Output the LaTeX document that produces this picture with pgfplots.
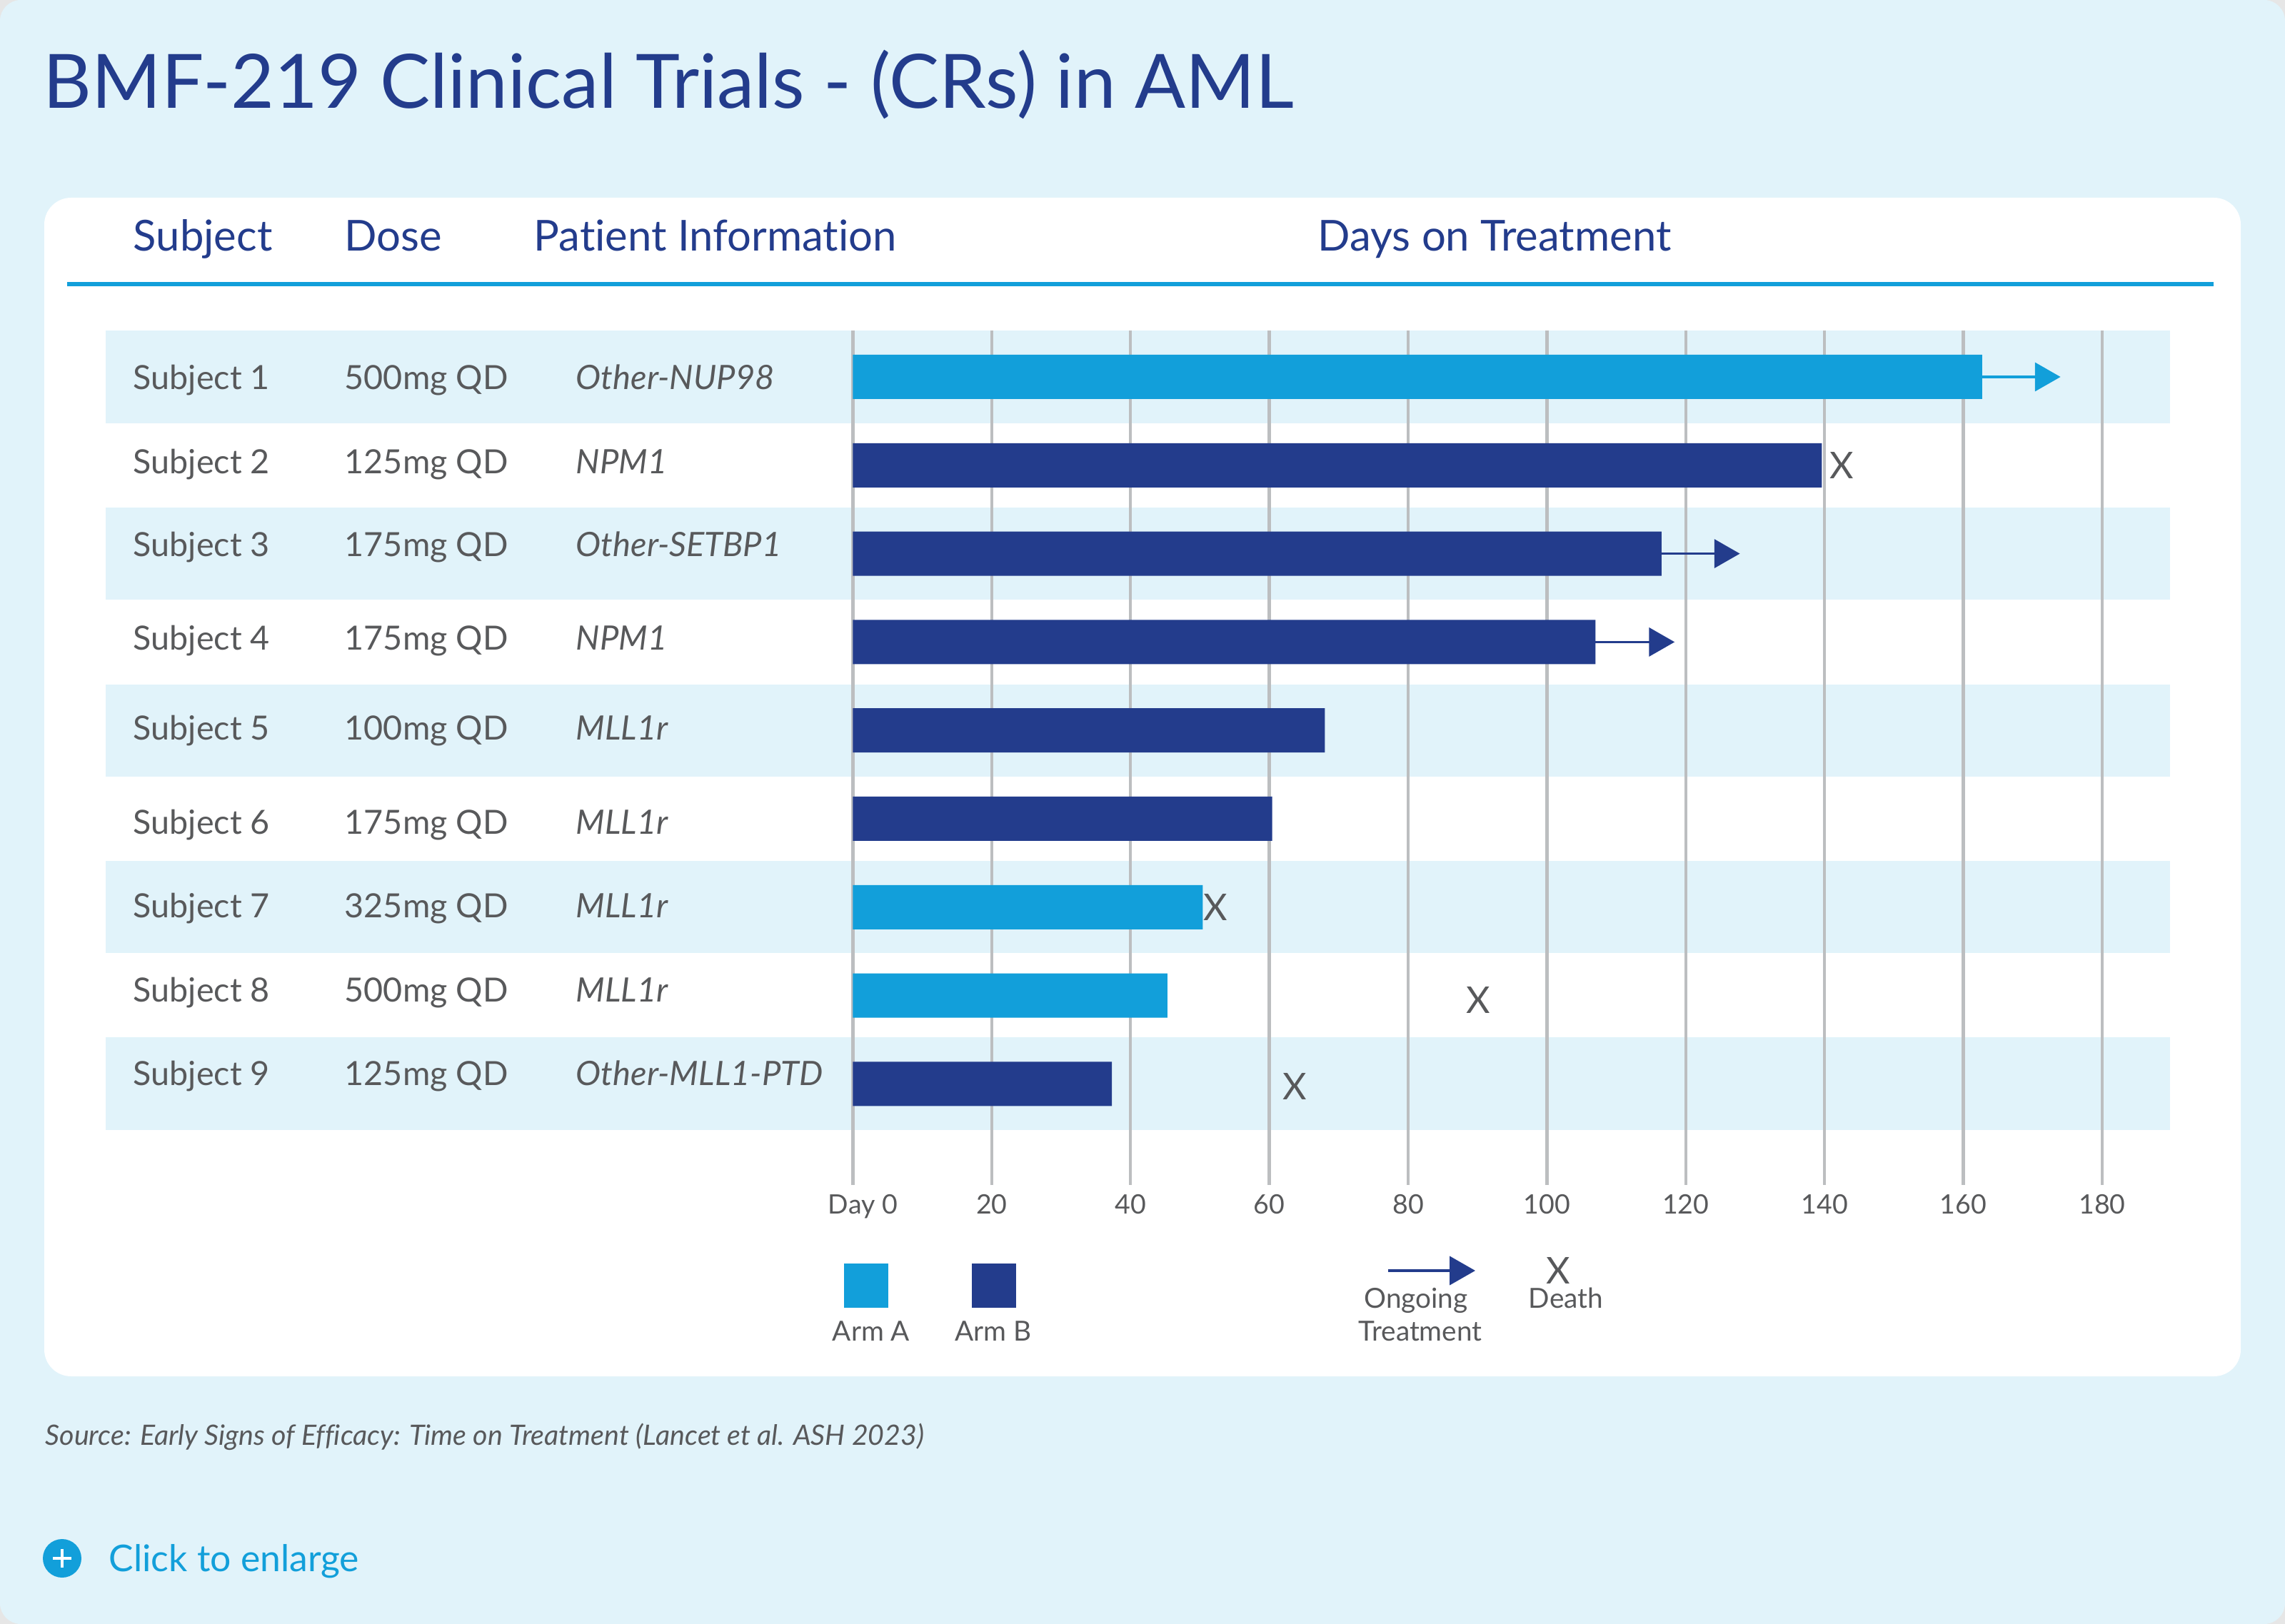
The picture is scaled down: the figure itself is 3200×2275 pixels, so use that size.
\documentclass[border=0pt]{standalone}
\usepackage{fontspec}
\setmainfont[Ligatures=NoCommon]{Lato}
\usepackage{pgfplots}
\pgfplotsset{compat=1.18}
\usetikzlibrary{arrows.meta}
\usetikzlibrary{plotmarks}
\definecolor{pagebg}{HTML}{E1F3FA}
\definecolor{armA}{HTML}{129FDA}
\definecolor{armB}{HTML}{233C8C}
\definecolor{txt}{HTML}{58595B}
\definecolor{gridc}{HTML}{BCBEC0}
\definecolor{outer}{HTML}{E6E6E6}
% 1 reference pixel = 0.24pt
\newcommand{\fs}[1]{\fontsize{#1}{#1}\selectfont}

\begin{document}
\begin{tikzpicture}[x=0.24pt,y=-0.24pt]
\path[use as bounding box] (0,0) rectangle (3200,2275);
\fill[outer] (0,0) rectangle (3200,2275);
\fill[pagebg,rounded corners=7pt] (0,0) rectangle (3200,2275);
\fill[white,rounded corners=9pt] (62,277) rectangle (3138,1928);
\fill[armA] (94,395) rectangle (3100,401);

% title and headers
\node[anchor=base west,inner sep=0,text=armB] at (60,152) {\fs{25.2}BMF-219 Clinical Trials - (CRs) in AML};
\foreach \x/\t in {186/Subject,482/Dose,747/Patient Information,1845/Days on Treatment}
  \node[anchor=base west,inner sep=0,text=armB] at (\x,352) {\fs{14.35}\t};

% row bands
\foreach \a/\b in {463/593,711/840,959/1088,1206/1335,1453/1583}
  \fill[pagebg] (148,\a) rectangle (3039,\b);

% row labels
\foreach \y/\s/\d/\p in {
  546/Subject 1/500mg QD/Other-NUP98,
  664/Subject 2/125mg QD/NPM1,
  780/Subject 3/175mg QD/Other-SETBP1,
  911/Subject 4/175mg QD/NPM1,
  1037/Subject 5/100mg QD/MLL1r,
  1168/Subject 6/175mg QD/MLL1r,
  1285/Subject 7/325mg QD/MLL1r,
  1403/Subject 8/500mg QD/MLL1r,
  1520/Subject 9/125mg QD/Other-MLL1-PTD}{
  \node[anchor=base west,inner sep=0,text=txt] at (186,\y) {\fs{11.2}\s};
  \node[anchor=base west,inner sep=0,text=txt] at (482,\y) {\fs{11.2}\d};
  \node[anchor=base west,inner sep=0,text=txt] at (806,\y) {\fs{11.3}\itshape\p};
}

\begin{axis}[
  at={(286.68pt,-111.12pt)}, anchor=north west,
  scale only axis, width=419.88pt, height=287.28pt,
  xmin=0, xmax=180, ymin=0.475, ymax=10.144, y dir=reverse,
  axis line style={draw=none},
  clip=false,
  xtick={0,20,...,180},
  xticklabels={\hspace*{6.7pt}Day 0,20,40,60,80,100,120,140,160,180},
  xtick style={draw=none},
  ytick=\empty,
  xmajorgrids,
  major grid style={gridc,line width=1.05pt},
  tick label style={font=\fs{9},text=txt},
  xticklabel style={yshift=0.4pt},
  /pgf/number format/assume math mode=true,
]
% Arm A
\addplot[xbar,bar width=14.88pt,bar shift=0pt,fill=armA,draw=none] coordinates {
  (162.7,1) (50.4,7) (45.3,8)};
% Arm B
\addplot[xbar,bar width=14.88pt,bar shift=0pt,fill=armB,draw=none] coordinates {
  (139.6,2) (116.5,3) (107,4) (68,5) (60.4,6) (37.3,9)};
% ongoing treatment arrows
\addplot[armA,line width=0.9pt,-{Triangle[length=8.6pt,width=9.6pt]}] coordinates {(162.7,1) (174,1)};
\addplot[armB,line width=0.9pt,-{Triangle[length=8.6pt,width=9.6pt]}] coordinates {(116.5,3) (127.8,3)};
\addplot[armB,line width=0.9pt,-{Triangle[length=8.6pt,width=9.6pt]}] coordinates {(107,4) (118.4,4)};
% deaths
\addplot[only marks,mark=text,text mark={\fs{12.4}\textcolor{txt}{X}}] coordinates {
  (142.5,2) (52.2,7) (90.1,8.05) (63.7,9.03)};
\end{axis}

% legend
\fill[armA] (1182,1770) rectangle (1244,1832);
\fill[armB] (1361,1770) rectangle (1423,1832);
\draw[armB,line width=0.9pt,-{Triangle[length=8.6pt,width=9.6pt]}] (1944,1780) -- (2066,1780);
\node[text=txt,inner sep=0] at (2182,1780) {\fs{12.4}X};
\foreach \x/\y/\t in {1220/1878/Arm A,1391/1878/Arm B,1983/1832/Ongoing,1989/1878/Treatment,2193/1832/Death}
  \node[anchor=base,inner sep=0,text=txt] at (\x,\y) {\fs{9.3}\t};

% footer
\node[anchor=base west,inner sep=0,text=txt] at (63,2024) {\fs{9.44}\itshape Source: Early Signs of Efficacy: Time on Treatment (Lancet et al. ASH 2023)};
\fill[armA] (87,2183) circle (27);
\draw[white,line width=0.8pt] (87,2170) -- (87,2196) (74,2183) -- (100,2183);
\node[anchor=base west,inner sep=0,text=armA] at (152,2201) {\fs{12.4}Click to enlarge};
\end{tikzpicture}
\end{document}
